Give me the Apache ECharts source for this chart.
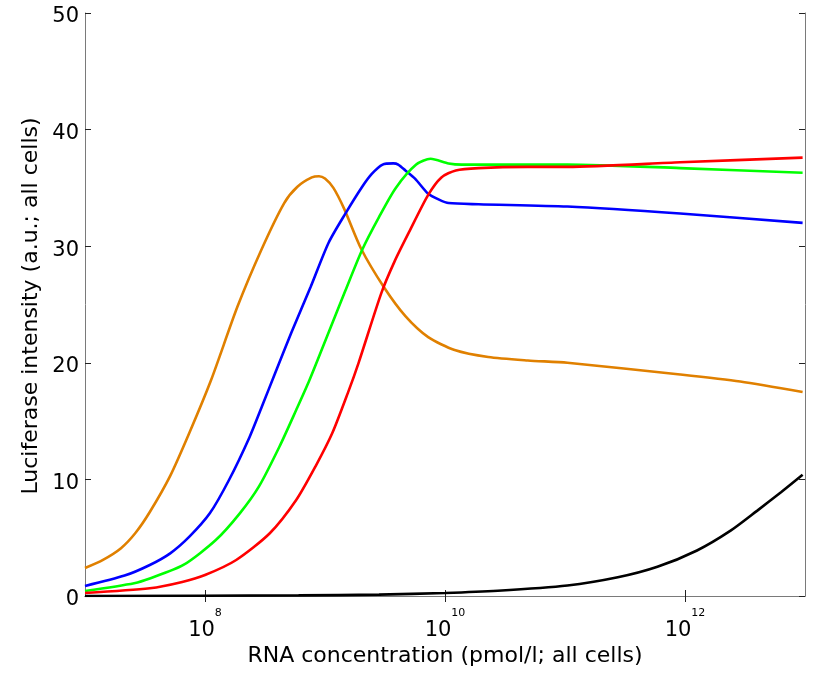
<!DOCTYPE html>
<html>
<head>
<meta charset="utf-8">
<script src="https://cdn.jsdelivr.net/npm/echarts@6/dist/echarts.min.js"></script>
<style>
  html, body { margin: 0; padding: 0; background: #fff; }
  #chart { width: 813px; height: 673px; }
</style>
</head>
<body>
<div id="chart"></div>
<script>
// x values are log10 of RNA concentration (pmol/l)
const orangeX = [7.00, 7.15, 7.30, 7.42, 7.54, 7.71, 7.87, 8.05, 8.27, 8.47, 8.66, 8.77, 8.89, 8.95, 9.00, 9.07, 9.16, 9.30, 9.49, 9.67, 9.86, 10.08, 10.36, 10.69, 11.02, 11.96, 12.46, 12.98]
const orangeY = [2.4, 3.1, 4.1, 5.4, 7.2, 10.3, 14.0, 18.5, 24.8, 29.7, 33.7, 35.1, 35.9, 36.0, 35.8, 35.0, 33.2, 29.8, 26.5, 24.0, 22.2, 21.1, 20.5, 20.2, 20.0, 19.0, 18.4, 17.5]

const blueX = [7.00, 7.33, 7.54, 7.71, 7.87, 8.04, 8.20, 8.37, 8.48, 8.58, 8.72, 8.88, 9.03, 9.17, 9.31, 9.39, 9.48, 9.57, 9.61, 9.67, 9.75, 9.86, 9.95, 10.03, 10.28, 11.02, 11.96, 12.98]
const blueY = [0.86, 1.75, 2.66, 3.66, 5.09, 7.09, 9.95, 13.6, 16.4, 19.0, 22.6, 26.5, 30.3, 32.8, 35.1, 36.2, 37.0, 37.1, 37.0, 36.5, 35.8, 34.5, 34.0, 33.7, 33.6, 33.4, 32.8, 32.0]

const greenX = [7.00, 7.41, 7.54, 7.82, 8.09, 8.29, 8.45, 8.62, 8.76, 8.87, 9.03, 9.17, 9.31, 9.45, 9.59, 9.76, 9.88, 10.03, 10.14, 10.28, 11.02, 11.96, 12.98]
const greenY = [0.43, 1.1, 1.5, 2.66, 4.8, 7.09, 9.4, 12.8, 15.95, 18.5, 22.6, 26.2, 29.7, 32.5, 35.0, 37.0, 37.5, 37.1, 37.0, 37.0, 37.0, 36.7, 36.3]

const redX = [7.00, 7.54, 7.81, 8.00, 8.26, 8.54, 8.76, 8.92, 9.06, 9.19, 9.28, 9.47, 9.58, 9.70, 9.86, 9.97, 10.09, 10.28, 10.69, 11.02, 11.96, 12.98]
const redY = [0.26, 0.66, 1.2, 1.8, 3.09, 5.38, 8.23, 11.1, 13.95, 17.4, 20.0, 26.0, 28.7, 31.2, 34.4, 35.9, 36.5, 36.7, 36.8, 36.8, 37.2, 37.6]

const blackX = [7.00, 8.78, 9.45, 10.00, 10.44, 11.02, 11.44, 11.77, 12.10, 12.38, 12.60, 12.80, 12.98]
const blackY = [0.0, 0.05, 0.12, 0.26, 0.45, 0.9, 1.6, 2.5, 3.9, 5.6, 7.3, 8.9, 10.4]

const xTickExponents = [8, 10, 12]
const yTicks = [0, 10, 20, 30, 40, 50]

const pairs = (xs, ys) => xs.map((x, i) => [x, ys[i]])

const FONT = 'DejaVu Sans, Verdana, sans-serif'
const boxLine = { show: true, lineStyle: { color: '#7a7a7a', width: 1 } }
const tick = { show: true, inside: true, length: 6, lineStyle: { color: '#222', width: 1 } }

const chart = echarts.init(document.getElementById('chart'))

const line = (name, xs, ys, color) => ({
  name,
  type: 'line',
  data: pairs(xs, ys),
  showSymbol: false,
  smooth: 0.25,
  lineStyle: { color, width: 2.6 },
  itemStyle: { color },
  clip: true,
  animation: false
})

chart.setOption({
  animation: false,
  grid: { left: 85, top: 13, right: 8, bottom: 77, containLabel: false, outerBoundsMode: 'none' },
  xAxis: [
    {
      type: 'value', min: 7, max: 13, interval: 1, position: 'bottom',
      axisLine: boxLine,
      axisTick: Object.assign({}, tick, { customValues: xTickExponents }),
      splitLine: { show: false },
      axisLabel: {
        customValues: xTickExponents,
        margin: 12,
        formatter: v => '{b|10}{s|' + v + '}',
        rich: {
          b: { fontFamily: FONT, fontSize: 21, color: '#000', lineHeight: 33, verticalAlign: 'bottom' },
          s: { fontFamily: FONT, fontSize: 11, color: '#000', lineHeight: 11, verticalAlign: 'top' }
        }
      }
    },
    {
      type: 'value', min: 7, max: 13, interval: 1, position: 'top',
      axisLine: boxLine,
      axisTick: Object.assign({}, tick, { customValues: xTickExponents }),
      axisLabel: { show: false },
      splitLine: { show: false }
    }
  ],
  yAxis: [
    {
      type: 'value', min: 0, max: 50, interval: 10, position: 'left',
      axisLine: boxLine,
      axisTick: tick,
      splitLine: { show: false },
      axisLabel: {
        customValues: yTicks,
        margin: 6,
        formatter: v => '{v|' + v + '}',
        rich: { v: { fontFamily: FONT, fontSize: 21, color: '#000', padding: [8, 0, 0, 0] } }
      }
    },
    {
      type: 'value', min: 0, max: 50, interval: 10, position: 'right',
      axisLine: boxLine,
      axisTick: tick,
      splitLine: { show: false },
      axisLabel: { show: false }
    }
  ],
  graphic: [
    {
      type: 'text', x: 445, y: 656,
      style: { text: 'RNA concentration (pmol/l; all cells)', font: '22px ' + FONT, fill: '#000', textAlign: 'center', textVerticalAlign: 'middle' }
    },
    {
      type: 'text', x: 31, y: 306, rotation: Math.PI / 2,
      style: { text: 'Luciferase intensity (a.u.; all cells)', font: '22px ' + FONT, fill: '#000', textAlign: 'center', textVerticalAlign: 'middle' }
    }
  ],
  series: [
    line('black', blackX, blackY, '#000000'),
    line('orange', orangeX, orangeY, '#e08000'),
    line('blue', blueX, blueY, '#0000ff'),
    line('green', greenX, greenY, '#00ff00'),
    line('red', redX, redY, '#ff0000')
  ]
})
</script>
</body>
</html>
